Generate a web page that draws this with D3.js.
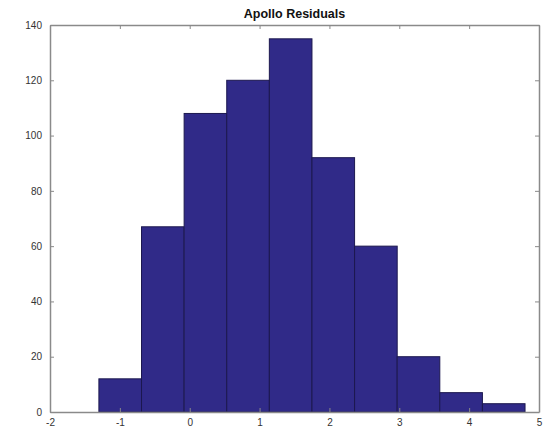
<!DOCTYPE html>
<html><head><meta charset="utf-8">
<script src="https://cdn.jsdelivr.net/npm/d3@7"></script>
<style>body{margin:0;background:#fff;font-family:"Liberation Sans",Arial,sans-serif}</style>
</head><body><svg id="c" width="555" height="430"></svg>
<script>
const binEdges = [-1.30, -0.69, -0.08, 0.53, 1.14, 1.75, 2.36, 2.97, 3.58, 4.19, 4.80];
const counts = [12, 67, 108, 120, 135, 92, 60, 20, 7, 3];
const xTicks = [-2, -1, 0, 1, 2, 3, 4, 5];
const yTicks = [0, 20, 40, 60, 80, 100, 120, 140];
const title = "Apollo Residuals";

const svg = d3.select("#c");
const L = 50, R = 539, T = 25, B = 412;
const x = d3.scaleLinear().domain([-2, 5]).range([L, R]);
const y = d3.scaleLinear().domain([0, 140]).range([B, T]);

const bins = counts.map((c, i) => ({x0: binEdges[i], x1: binEdges[i+1], c}));
svg.append("g").selectAll("rect").data(bins).enter().append("rect")
  .attr("x", d => x(d.x0)).attr("width", d => x(d.x1) - x(d.x0))
  .attr("y", d => y(d.c)).attr("height", d => y(0) - y(d.c))
  .attr("fill", "#302a88").attr("stroke", "#1c184f").attr("stroke-width", 1);

const axCol = "#8a8a8a";
function style(g, showText) {
  g.select(".domain").attr("stroke", axCol).attr("stroke-width", 1.5);
  g.selectAll(".tick line").attr("stroke", axCol);
  g.selectAll(".tick text").attr("fill", "#333").style("font-size", "10px")
    .style("font-family", "Liberation Sans, Arial, sans-serif");
  if (!showText) g.selectAll(".tick text").remove();
}
const fmt = d => String(d);
svg.append("g").attr("transform", `translate(0,${B})`)
  .call(d3.axisBottom(x).tickValues(xTicks).tickFormat(fmt).tickSizeInner(-4).tickSizeOuter(0).tickPadding(7))
  .call(g => style(g, true));
svg.append("g").attr("transform", `translate(0,${T})`)
  .call(d3.axisTop(x).tickValues(xTicks).tickSizeInner(-4).tickSizeOuter(0))
  .call(g => style(g, false));
svg.append("g").attr("transform", `translate(${L},0)`)
  .call(d3.axisLeft(y).tickValues(yTicks).tickFormat(fmt).tickSizeInner(-4).tickSizeOuter(0).tickPadding(8))
  .call(g => style(g, true));
svg.append("g").attr("transform", `translate(${R},0)`)
  .call(d3.axisRight(y).tickValues(yTicks).tickSizeInner(-4).tickSizeOuter(0))
  .call(g => style(g, false));

svg.append("text").attr("x", (L + R) / 2).attr("y", 18).attr("text-anchor", "middle")
  .style("font-size", "12.5px").style("font-weight", "bold").attr("fill", "#111")
  .text(title);
</script></body></html>
